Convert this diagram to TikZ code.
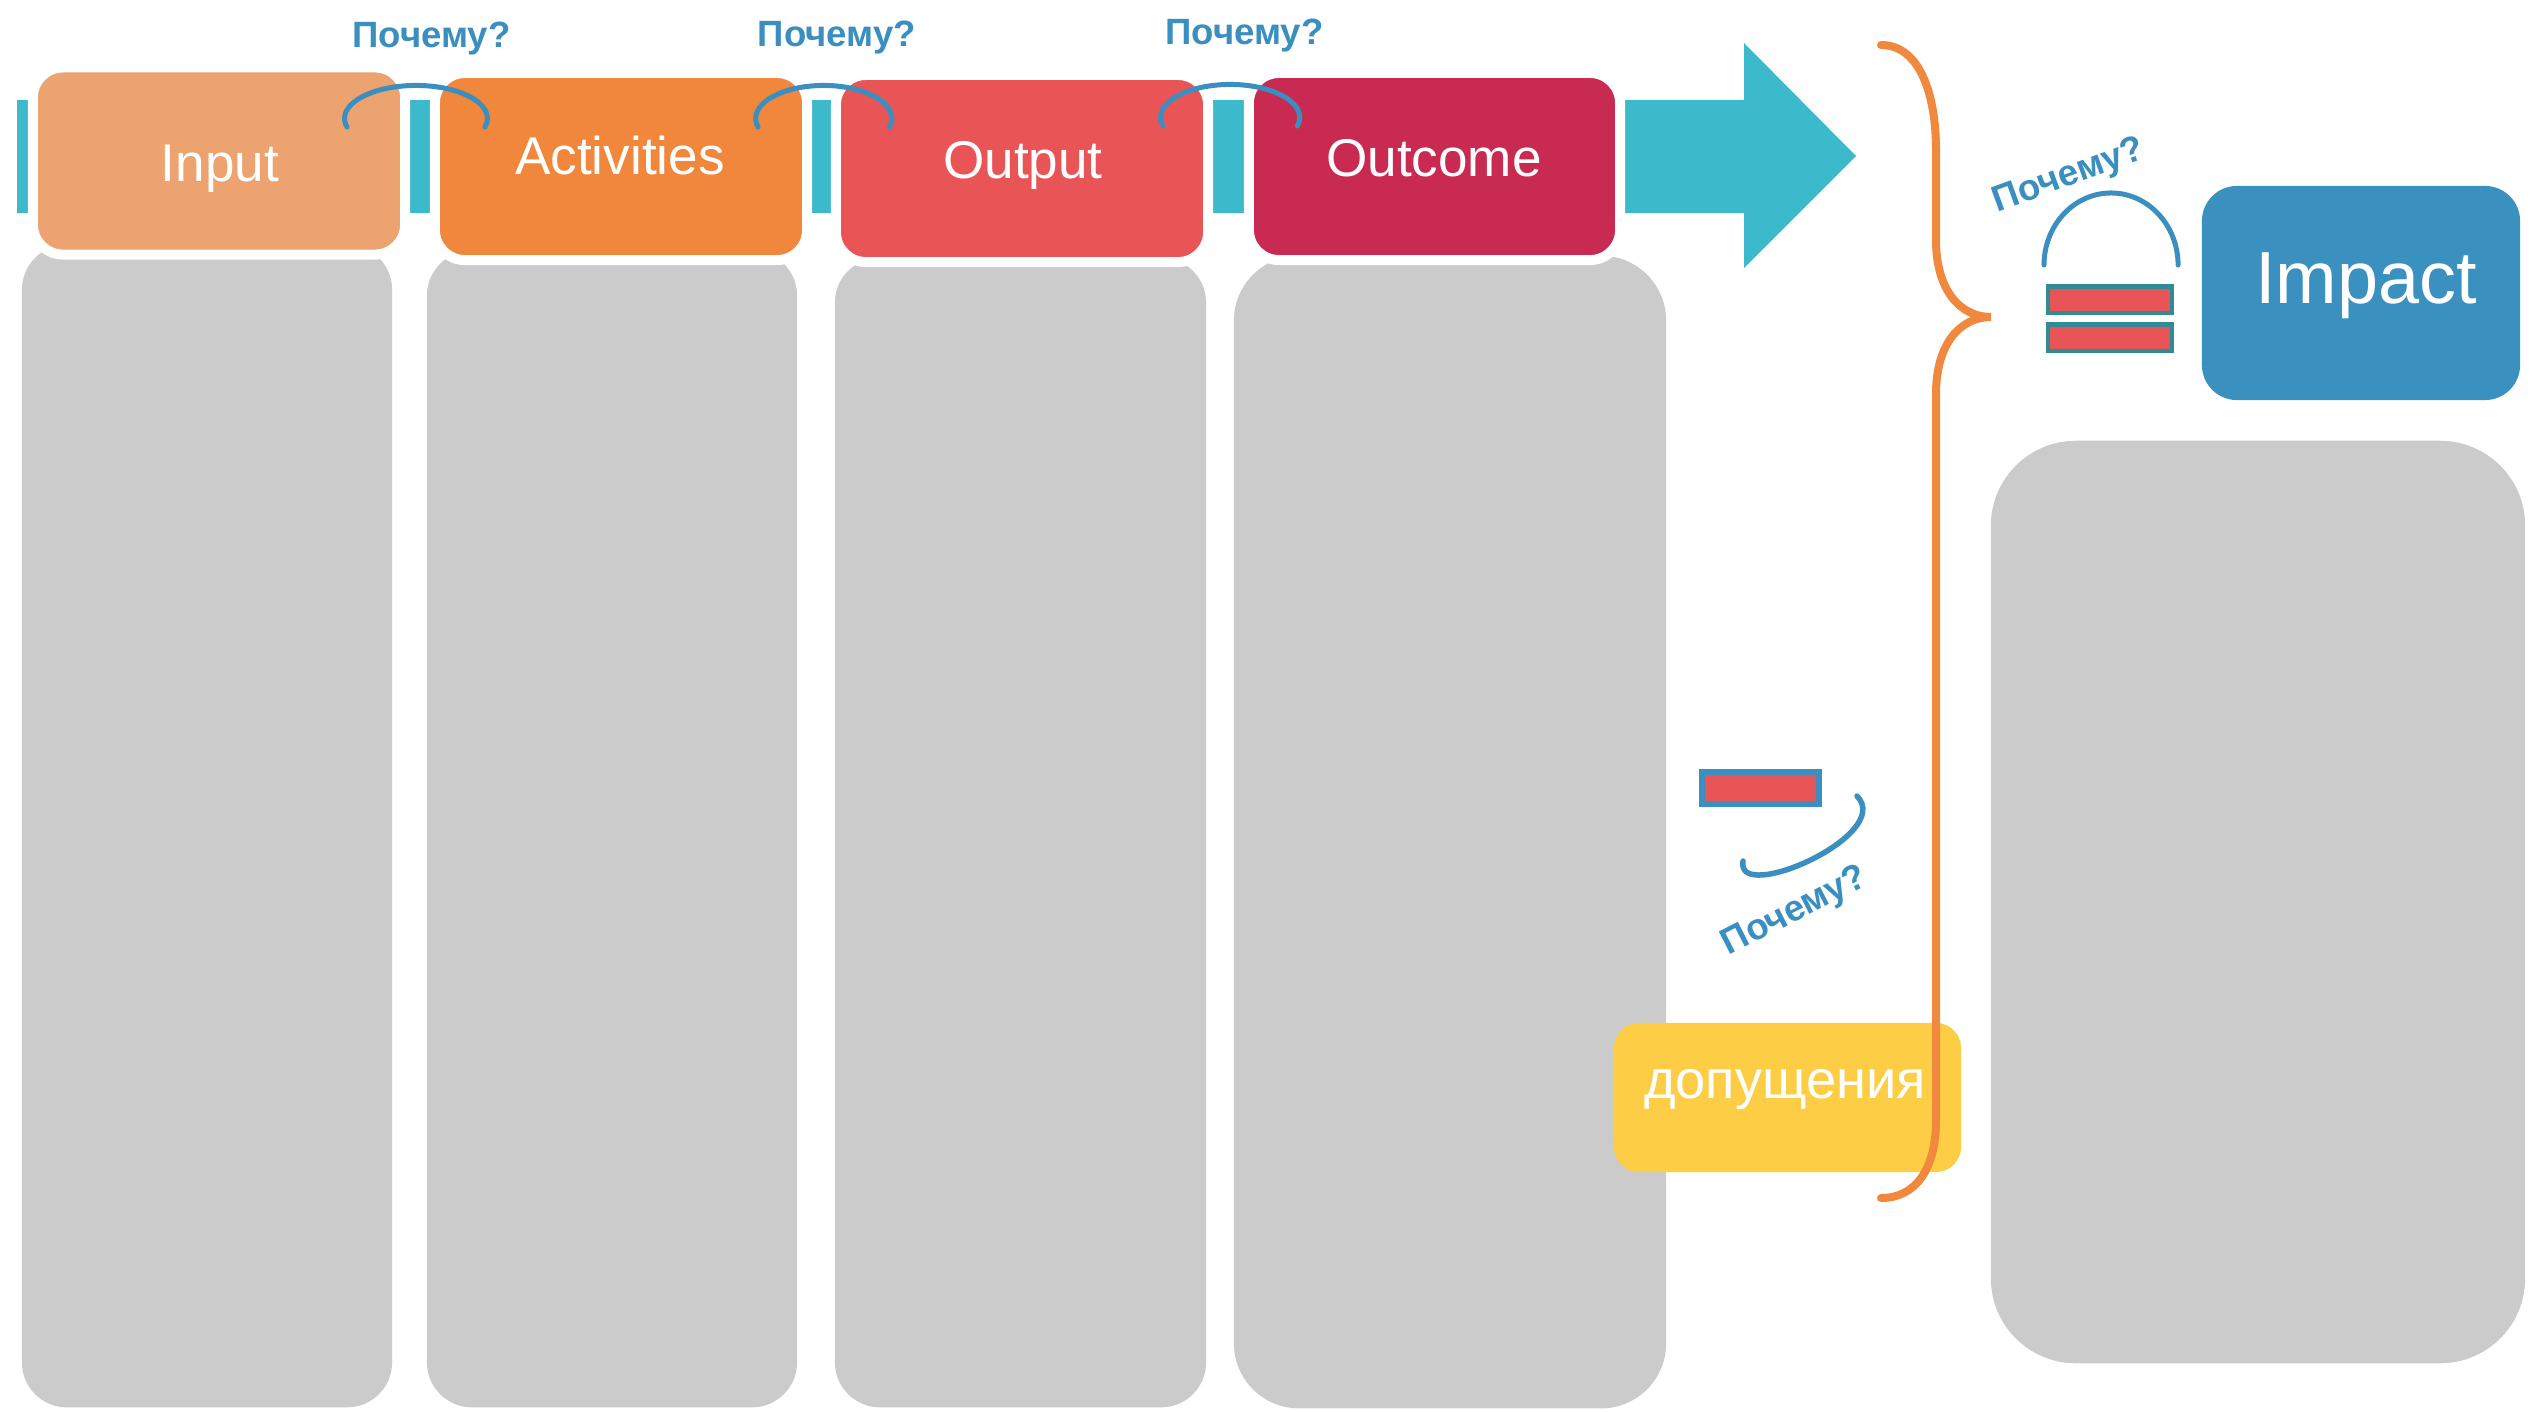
\documentclass[tikz,border=0pt]{standalone}
\usepackage{fontspec}
\setmainfont{Liberation Sans}
\definecolor{tealbar}{HTML}{3CB9CB}
\definecolor{greybox}{HTML}{CBCBCB}
\definecolor{inputc}{HTML}{ECA36F}
\definecolor{actc}{HTML}{F0873D}
\definecolor{outputc}{HTML}{E95557}
\definecolor{outcomec}{HTML}{C92A52}
\definecolor{impactc}{HTML}{3A90BF}
\definecolor{yellowc}{HTML}{FDCE45}
\definecolor{bracec}{HTML}{F0893D}
\definecolor{whyc}{HTML}{3A8FC0}
\definecolor{eqborder}{HTML}{2F8B95}
\definecolor{redfill}{HTML}{E85556}
\tikzset{
  greycol/.style={fill=greybox, draw=none, inner sep=0pt, rounded corners=0.45cm},
  stagebox/.style={draw=white, line width=0.10cm, inner sep=0pt, rounded corners=0.30cm,
    minimum width=3.72cm, minimum height=1.87cm},
  boxlabel/.style={text=white, inner sep=0pt, anchor=base, font=\fontsize{15.1}{18}\selectfont},
  whytext/.style={text=whyc, inner sep=0pt, anchor=base, font=\bfseries\fontsize{10.4}{12}\selectfont},
  whyarc/.style={draw=whyc, line width=0.05cm, line cap=round},
  redbar/.style={fill=redfill, inner sep=0pt},
}
\begin{document}
\begin{tikzpicture}[x=0.01cm, y=-0.01cm]
\useasboundingbox (0,0) rectangle (2539,1411);
\fill[white] (0,0) rectangle (2539,1411);

% teal arrow
\fill[tealbar] (17,100) -- (1744,100) -- (1744,43) -- (1856,156) -- (1744,268) -- (1744,213) -- (17,213) -- cycle;

% grey columns
\node[greycol, minimum width=3.70cm, minimum height=11.62cm] (col1) at (207,826) {};
\node[greycol, minimum width=3.70cm, minimum height=11.56cm] (col2) at (612,829) {};
\node[greycol, minimum width=3.71cm, minimum height=11.49cm] (col3) at (1020.5,832.5) {};
\node[greycol, minimum width=4.32cm, minimum height=11.52cm, rounded corners=0.65cm] (col4) at (1450,832) {};
\node[greycol, minimum width=5.34cm, minimum height=9.22cm, rounded corners=0.85cm] (colR) at (2258,902) {};

% stage boxes
\node[stagebox, fill=inputc] (input) at (219,161) {};
\node[stagebox, fill=actc] (act) at (621,166.5) {};
\node[stagebox, fill=outputc] (output) at (1022,168.5) {};
\node[stagebox, fill=outcomec, minimum width=3.71cm] (outcome) at (1434.5,166.5) {};

\node[boxlabel] (inputL) at (220,181) {Input};
\node[boxlabel] (actL) at (620,174) {Activities};
\node[boxlabel] (outputL) at (1023,178) {Output};
\node[boxlabel] (outcomeL) at (1434,176) {Outcome};

% why arcs between boxes
\draw[whyarc] (347,127) arc[start angle=195, end angle=-15, x radius=0.714cm, y radius=0.33cm];
\draw[whyarc] (758,127) arc[start angle=195, end angle=-15, x radius=0.68cm, y radius=0.33cm];
\draw[whyarc] (1163,126) arc[start angle=195, end angle=-15, x radius=0.695cm, y radius=0.33cm];

\node[whytext] (why1) at (431.5,47) {Почему?};
\node[whytext] (why2) at (837,46) {Почему?};
\node[whytext] (why3) at (1244.5,44) {Почему?};

% assumptions box
\node[fill=yellowc, inner sep=0pt, rounded corners=0.25cm, minimum width=3.47cm, minimum height=1.49cm] (assump) at (1787.5,1097.5) {};
\node[boxlabel, font=\fontsize{15.4}{18}\selectfont] (assumpL) at (1785,1098) {допущения};

% brace
\draw[bracec, line width=0.08cm, line cap=round]
  (1881,45) .. controls (1920,45) and (1936,95) .. (1936,150)
  -- (1936,240) .. controls (1936,290) and (1960,317) .. (1991,317)
  .. controls (1960,317) and (1936,344) .. (1936,394)
  -- (1936,1120) .. controls (1936,1170) and (1915,1198) .. (1881,1198);

% minus and arc
\node[redbar, draw=whyc, line width=0.06cm, minimum width=1.17cm, minimum height=0.32cm] (minus) at (1760.5,788) {};
\draw[whyarc, line width=0.055cm] (1857,796) .. controls (1895,835) and (1735,905) .. (1743,861);
\node[whytext, rotate=27] (why4) at (1799,920) {Почему?};

% impact
\node[fill=impactc, inner sep=0pt, rounded corners=0.35cm, minimum width=3.18cm, minimum height=2.14cm] (impact) at (2361,293) {};
\node[boxlabel, font=\fontsize{21}{24}\selectfont] (impactL) at (2366,303) {Impact};

% equals and arc
\node[redbar, draw=eqborder, line width=0.045cm, minimum width=1.235cm, minimum height=0.265cm] (eq1) at (2110,299.5) {};
\node[redbar, draw=eqborder, line width=0.045cm, minimum width=1.235cm, minimum height=0.265cm] (eq2) at (2110,337.5) {};
\draw[whyarc] (2044,265) arc[start angle=180, end angle=0, x radius=0.67cm, y radius=0.72cm];
\node[whytext, rotate=20] (why5) at (2072,185) {Почему?};
\end{tikzpicture}
\end{document}
